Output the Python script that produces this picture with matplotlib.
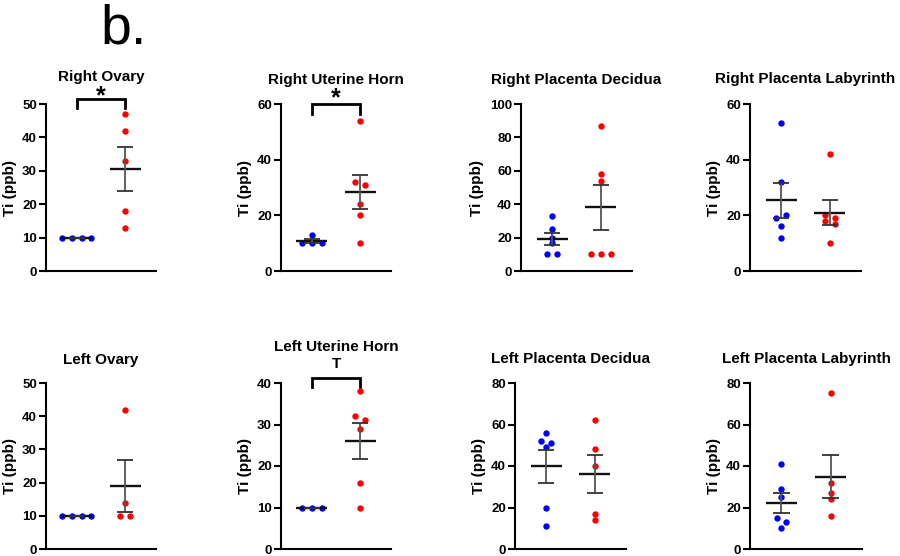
import numpy as np
import matplotlib
matplotlib.use("Agg")
import matplotlib.pyplot as plt
import matplotlib.transforms as mtransforms

plt.rcParams['font.family'] = ['Liberation Sans', 'DejaVu Sans']

# ---- data (Ti, ppb) ----
titles = ["Right Ovary", "Right Uterine Horn", "Right Placenta Decidua", "Right Placenta Labyrinth",
          "Left Ovary", "Left Uterine Horn", "Left Placenta Decidua", "Left Placenta Labyrinth"]

blue_values = [
    [10, 10, 10, 10],
    [13, 10, 10, 10],
    [33, 25, 20, 17, 10, 10],
    [53, 32, 19, 20, 16, 12],
    [10, 10, 10, 10],
    [10, 10, 10],
    [56, 52, 51, 49, 20, 11],
    [41, 29, 25, 15, 13, 10],
]
red_values = [
    [47, 42, 33, 18, 13],
    [54, 32, 31, 24, 20, 10],
    [87, 58, 54, 10, 10, 10],
    [42, 20, 19, 18, 17, 10],
    [42, 14, 10, 10],
    [38, 32, 31, 29, 16, 10],
    [62, 48, 40, 17, 14],
    [75, 32, 27, 24, 16],
]
y_max = [50, 60, 100, 60, 50, 40, 80, 80]
y_step = [10, 20, 20, 20, 10, 10, 20, 20]
signif = {0: "*", 1: "*", 5: "T"}

# ---- layout (pixels of a 900x556 canvas) ----
W, H = 900, 556
ax_left = [46, 281, 521, 750, 46, 281, 515, 750]
ax_right = [156, 391, 632, 861, 156, 391, 626, 862]
row_top = [104, 383]
row_bottom = [271, 549]
title_y = [1.163, 1.144, 1.144, 1.148, 1.138, 1.218, 1.145, 1.145]
bracket = {0: (1.03, 0.976, 1.048), 1: (1.0, 0.94, 1.032), 5: (1.03, 0.976, 1.115)}

BLUE = "#0000FF"
RED = "#FF0000"
SPACING_PX = 9.7
THRESH_PX = 4.6


def swarm_offsets(vals, xpx, ypx):
    """GraphPad-like row swarm: points closer than THRESH_PX share a centred row"""
    vals = np.asarray(vals, dtype=float)
    order = sorted(range(len(vals)), key=lambda i: -vals[i])
    rows, cur = [], [order[0]]
    for i in order[1:]:
        if (vals[cur[0]] - vals[i]) * ypx < THRESH_PX:
            cur.append(i)
        else:
            rows.append(cur)
            cur = [i]
    rows.append(cur)
    off = np.zeros(len(vals))
    for row in rows:
        row = sorted(row)
        k = len(row)
        for j, i in enumerate(row):
            off[i] = (j - (k - 1) / 2) * SPACING_PX / xpx
    return off


fig = plt.figure(figsize=(9, 5.56), dpi=100)
fig.text(100 / W, 1 - 44 / H, "b.", fontsize=40, va="baseline", ha="left")

xlim = (0.36, 2.64)
for k in range(8):
    r = k // 4
    l, rr = ax_left[k], ax_right[k]
    t, b = row_top[r], row_bottom[r]
    ax = fig.add_axes([l / W, 1 - b / H, (rr - l) / W, (b - t) / H])
    ax.set_xlim(*xlim)
    ax.set_ylim(0, y_max[k])
    ax.set_yticks(np.arange(0, y_max[k] + 1, y_step[k]))
    ax.set_xticks([])
    for s in ["top", "right"]:
        ax.spines[s].set_visible(False)
    for s in ["left", "bottom"]:
        ax.spines[s].set_linewidth(1.5)
    ax.tick_params(axis="y", width=1.5, length=5, pad=1.5, labelsize=9.5)
    for lab in ax.get_yticklabels():
        lab.set_fontweight("bold")
    ax.set_ylabel("Ti (ppb)", fontsize=11, fontweight="bold", labelpad=4)
    ax.text(0.5, title_y[k], titles[k], transform=ax.transAxes, ha="center", va="center",
            fontsize=11, fontweight="bold")

    xpx = (rr - l) / (xlim[1] - xlim[0])
    ypx = (b - t) / y_max[k]
    for pos, vals, col in [(1, blue_values[k], BLUE), (2, red_values[k], RED)]:
        v = np.asarray(vals, dtype=float)
        xs = pos + swarm_offsets(v, xpx, ypx)
        ax.scatter(xs, v, s=21, color=col, linewidths=0, zorder=3, clip_on=False)
        m = v.mean()
        sem = v.std(ddof=1) / np.sqrt(len(v))
        ax.hlines(m, pos - 0.32, pos + 0.32, color="#111111", lw=1.7, zorder=4)
        ax.vlines(pos, m - sem, m + sem, color="#555555", lw=1.3, zorder=4)
        ax.hlines([m - sem, m + sem], pos - 0.165, pos + 0.165, color="#333333", lw=1.3, zorder=4)

    if k in signif:
        top, leg, sy = bracket[k]
        tr = mtransforms.blended_transform_factory(ax.transData, ax.transAxes)
        ax.plot([1, 1, 2, 2], [leg, top, top, leg], color="black", lw=2, transform=tr,
                clip_on=False, solid_joinstyle="miter")
        if signif[k] == "*":
            ax.text(1.5, sy, "*", transform=tr, ha="center", va="center", fontsize=18,
                    fontweight="bold")
        else:
            ax.text(1.5, sy, "T", transform=tr, ha="center", va="center", fontsize=11,
                    fontweight="bold")

fig.savefig("out.png", dpi=100, facecolor="white")
